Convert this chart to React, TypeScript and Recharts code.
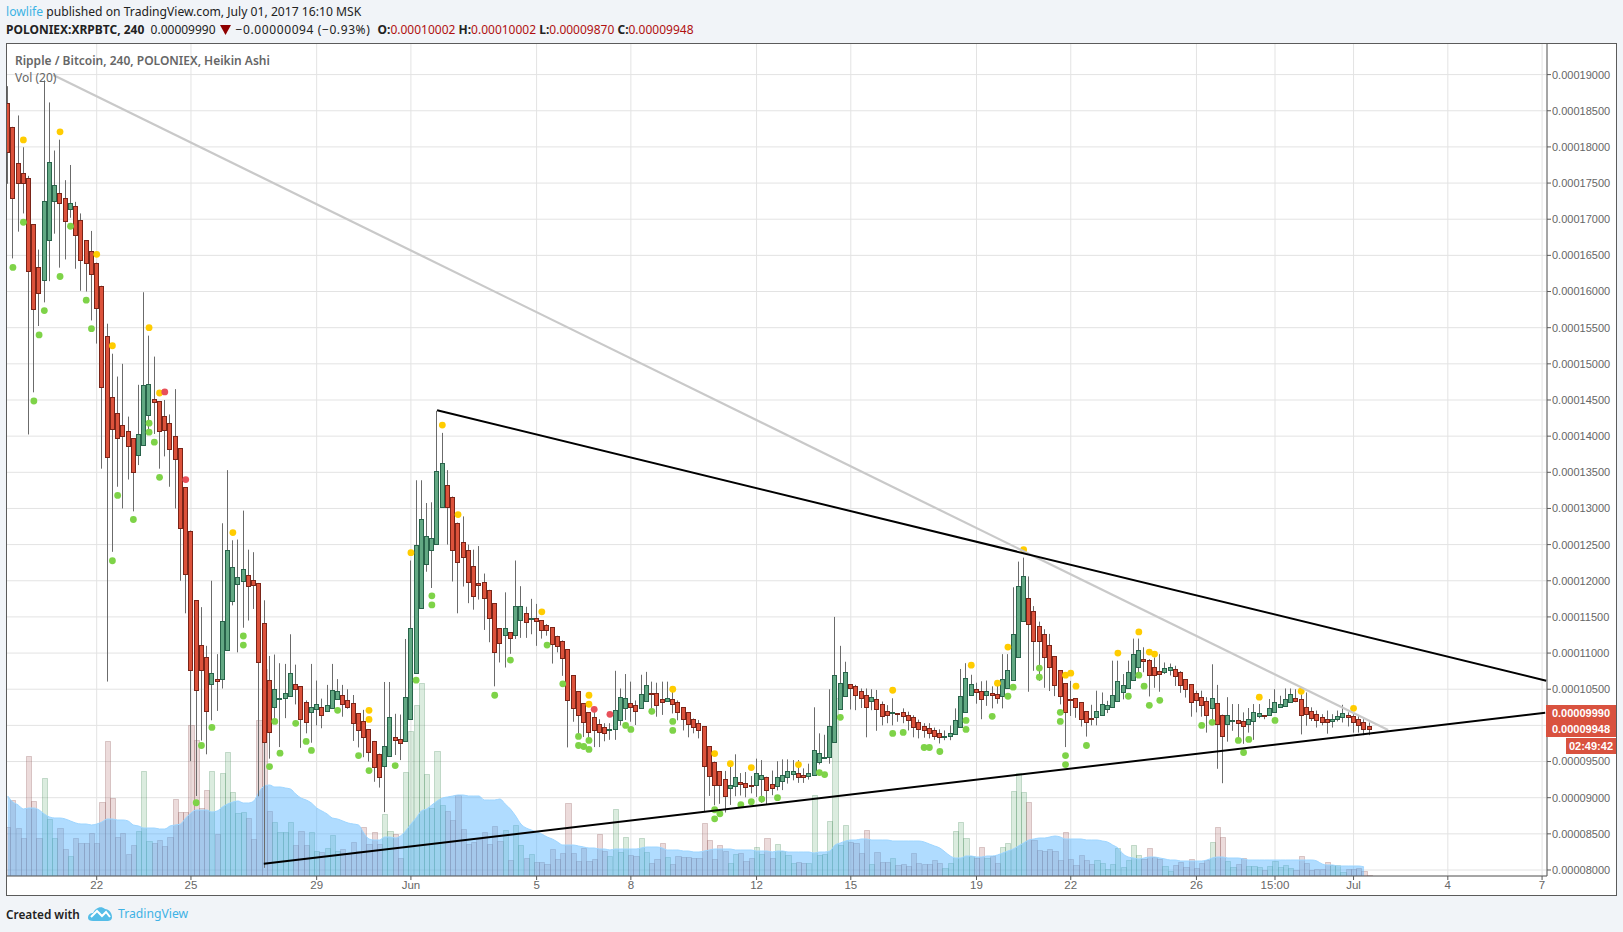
import React from 'react';
import {
  ComposedChart, Bar, Area, Scatter, XAxis, YAxis, CartesianGrid, ReferenceLine,
} from 'recharts';

// prices are in satoshi (1e-8 BTC), one entry per 4h Heikin Ashi candle
const opens = [
  18611,18278,17778,17640,17570,16930,16346,16166,16708,17250,17360,17290,17140,17180,16990,16710,16555,16400,16080,15390,
  14540,14320,14150,14070,13970,13735,13875,14290,14510,14480,14280,14180,14000,13833,13290,12695,11730,11110,10944,10570,
  10640,10640,11040,11720,11950,12000,12080,12010,11970,11415,10630,10250,10360,10375,10400,10570,10540,10320,10180,10220,
  10260,10200,10240,10365,10420,10350,10310,10170,10060,9950,9785,9610,9445,9580,9840,9810,9785,10090,10720,11625,
  12235,12430,12515,13015,13320,13165,12805,12530,12430,12210,11975,11985,11875,11690,11345,11245,11290,11245,11455,11555,
  11480,11485,11455,11385,11360,11240,11170,11055,10695,10472,10305,10180,10110,10015,9975,9930,9945,10070,10235,10305,
  10277,10235,10335,10445,10445,10360,10335,10360,10320,10250,10180,10095,10030,9990,9710,9500,9365,9265,9135,9165,
  9220,9200,9180,9180,9260,9290,9195,9165,9225,9280,9325,9340,9310,9295,9310,9495,9545,9560,9765,10225,
  10400,10570,10540,10470,10415,10335,10360,10290,10205,10170,10170,10180,10150,10110,10040,9985,9960,9930,9890,9855,
  9860,9875,9975,10180,10415,10500,10470,10415,10445,10430,10400,10515,10625,10945,11445,11765,11585,11375,11265,11110,
  10960,10765,10585,10370,10375,10320,10195,10105,10110,10150,10220,10250,10335,10465,10515,10625,10805,10915,10900,10805,
  10750,10735,10765,10780,10735,10640,10570,10445,10390,10335,10235,10305,10150,10015,10070,10080,10055,10015,10055,10125,
  10140,10140,10180,10250,10265,10320,10375,10360,10250,10195,10155,10110,10085,10055,10085,10110,10140,10125,10085,10040,
  9985,
];
const highs = [
  18840,18278,18435,17995,17600,16930,16580,18920,18615,17950,18100,17540,17750,17240,17080,16710,16838,16400,16080,15555,
  15140,14824,15000,14270,13970,14710,15990,15390,15100,14480,14500,14300,14650,13833,13290,12695,11730,11635,11100,12000,
  10985,12795,13530,12560,12570,12970,12430,12395,11970,11730,10960,10980,10860,10850,11260,10840,10540,10345,10850,10620,
  10370,10560,10850,10640,10560,10500,10420,10170,10215,9950,9785,9610,10600,10600,10160,10150,11195,12280,13390,13390,
  13075,13085,14350,14045,13530,13165,12805,12890,12500,12430,12480,12100,11875,11690,11345,11840,11290,12280,11925,11640,
  11750,11680,11455,11400,11360,11240,11175,11055,10695,10472,10305,10180,10220,10085,10030,10030,10755,10510,10710,10605,
  10345,10700,10740,10605,10590,10605,10605,10510,10345,10250,10180,10095,10075,9990,9710,9500,9365,9370,9480,9600,
  9340,9355,9300,9540,9520,9290,9375,9505,9530,9530,9520,9520,9405,9470,10250,9890,9870,10500,11500,11100,
  10880,10570,10560,10510,10510,10500,10490,10330,10280,10375,10170,10235,10190,10140,10080,10030,10030,9970,9945,9930,
  10000,10235,10780,10860,10700,10590,10610,10620,10540,10590,10985,10985,11910,12265,12320,12060,11650,11435,11330,11265,
  10960,10765,10585,10615,10375,10320,10195,10285,10480,10455,10340,10895,10895,10710,10895,11200,11200,11080,10915,10940,
  10985,10870,10855,10825,10750,10640,10570,10480,10480,10390,10845,10560,10150,10390,10295,10295,10180,10240,10295,10295,
  10140,10365,10500,10410,10510,10510,10500,10430,10455,10250,10205,10155,10205,10155,10205,10285,10180,10155,10130,10085,
  10040,
];
const lows = [
  17490,16458,16828,17080,14023,14606,15523,15850,16143,16800,16330,16444,17020,16315,16010,16000,15600,15280,13550,10606,
  12400,13300,13000,13400,12960,13600,13875,14030,14030,13550,13720,13300,13000,12000,11550,9505,9023,9790,9600,10070,
  10200,10510,11040,11660,11010,11350,11450,11610,9020,8030,9540,10030,9700,10100,10400,10290,9690,9890,9760,10000,
  9960,10200,10240,10365,10120,10230,9785,9695,9560,9500,9220,9140,8800,9580,9590,9520,9785,10090,10720,11625,
  12125,11900,12515,13015,12500,11990,11550,11920,11690,11600,11740,11320,11150,10540,10870,10800,10990,11195,11210,11210,
  11260,11100,11200,11240,10855,11010,10685,9695,10050,9880,9840,9780,9700,9700,9780,9800,9800,10000,10075,10050,
  10005,10235,10335,10155,10120,10145,10335,10165,10070,9930,9835,9890,9820,8810,9025,8895,8915,8795,8900,9020,
  9030,9005,9060,9010,8930,8900,9035,9100,9105,9195,9240,9205,9205,9250,9310,9460,9545,9470,9765,10225,
  10400,10220,10210,10240,9835,10210,9925,10000,10030,10000,10050,10030,9930,9835,9820,9830,9820,9800,9750,9795,
  9795,9875,9975,10180,10415,10300,10085,10270,10235,10300,10235,10515,10625,10945,11445,10465,10755,10615,10520,10475,
  10405,10290,9700,10130,10105,9985,9845,10000,10000,10150,10170,10250,10335,10360,10515,10625,10685,10735,10400,10520,
  10465,10710,10690,10545,10450,10385,10120,10180,10120,9900,10015,9400,9200,9775,9925,9780,9745,9900,9800,10100,
  10085,10140,10180,10250,10265,10320,10320,9875,9995,10060,9970,10000,9885,9970,10055,10040,9985,9900,9900,9865,
  9865,
];
const closes = [
  17930,17292,17500,17500,16290,15764,15981,17250,17790,17470,17220,16970,17220,16780,16430,16400,16236,15778,14680,13708,
  14097,13970,14000,13860,13510,14030,14708,14720,14470,14070,14080,13820,13680,12735,12090,10764,10486,10764,10195,10720,
  10620,11440,12430,12195,12055,12165,11930,11945,10870,9765,9915,10500,10375,10450,10720,10510,10090,10040,10260,10300,
  10150,10275,10490,10480,10295,10250,10030,9935,9840,9630,9420,9280,9720,10110,9800,9760,10390,11345,12500,12860,
  12625,12585,13515,13625,13025,12430,12260,12335,11985,11790,11945,11760,11490,11010,11135,11345,11210,11650,11650,11425,
  11485,11440,11320,11320,11125,11100,10935,10347,10235,10150,10050,9915,9930,9915,9900,9945,10210,10390,10375,10250,
  10195,10430,10555,10440,10280,10320,10375,10290,10180,10095,10015,9975,9930,9435,9295,9175,9175,9030,9180,9290,
  9195,9150,9165,9345,9320,9100,9140,9280,9320,9365,9365,9285,9285,9340,9660,9620,9560,9990,10695,10580,
  10740,10515,10415,10375,10250,10390,10220,10125,10150,10180,10160,10125,10080,9975,9945,9930,9890,9850,9835,9860,
  9890,10070,10400,10650,10570,10460,10360,10470,10415,10375,10640,10765,11265,11930,12070,11400,11165,11165,10945,10805,
  10555,10400,10180,10365,10250,10085,10045,10095,10195,10290,10280,10415,10610,10555,10735,10985,11040,10890,10695,10695,
  10710,10790,10805,10680,10555,10500,10320,10350,10280,10140,10375,10015,9860,10140,10080,10030,9985,10095,10180,10165,
  10125,10235,10320,10290,10360,10430,10335,10140,10155,10100,10070,10040,10040,10095,10125,10165,10110,10040,10000,9945,
  9945,
];
const volumes = [
  49,76,48,38,120,75,38,98,57,38,48,27,20,38,33,33,43,33,74,135,
  78,39,43,22,31,45,105,35,33,36,30,39,77,64,64,151,136,68,86,105,
  42,103,124,84,63,64,58,37,156,207,65,54,44,44,54,31,45,31,44,25,
  24,28,41,25,27,22,34,25,49,32,44,32,62,45,42,18,104,145,171,193,
  102,68,125,71,65,56,81,47,32,34,37,44,32,50,35,46,16,51,31,18,
  22,14,14,12,27,17,23,73,23,15,28,15,17,42,25,20,67,24,39,21,
  20,38,24,13,17,33,19,12,20,19,19,18,18,53,36,17,31,25,13,22,
  23,15,18,29,22,38,18,32,25,21,13,14,13,13,81,21,22,55,178,31,
  51,34,33,23,46,12,24,14,14,18,11,12,10,23,13,12,12,16,13,8,
  13,45,54,38,20,18,29,18,20,13,29,33,85,103,84,74,36,26,25,27,
  25,16,44,17,11,21,16,12,16,13,7,12,28,9,16,31,21,17,28,19,
  17,10,5,11,14,9,17,8,13,16,34,49,39,15,9,12,18,10,10,9,
  6,10,15,9,11,8,6,20,13,6,7,7,14,11,11,4,7,7,8,5,
  1,
];
const volumeMa = [
  80,74,71,67,68,68,66,62,59,58,58,57,55,53,52,52,51,52,54,57,
  57,56,56,55,51,50,48,48,48,47,47,50,51,52,58,63,66,66,66,64,
  65,69,72,74,75,73,73,75,84,90,91,89,89,88,87,82,78,76,73,68,
  65,62,58,57,55,53,52,51,43,37,36,36,39,39,38,40,45,52,58,65,
  67,71,75,78,79,80,81,81,80,80,80,76,76,76,77,72,67,60,52,48,
  46,44,42,39,37,34,31,31,31,30,29,28,28,27,27,26,27,27,27,27,
  27,28,29,29,29,28,26,26,26,25,25,24,24,25,26,27,27,27,27,26,
  26,26,26,25,25,25,24,25,25,24,24,24,24,24,23,24,24,25,31,33,
  35,36,36,37,37,36,36,36,36,35,35,35,35,35,35,34,32,30,28,24,
  20,18,18,20,20,19,19,20,20,21,23,25,27,30,33,36,37,38,38,39,
  40,39,37,37,37,37,36,36,36,35,34,31,28,22,19,18,17,18,19,19,
  18,17,16,16,15,15,15,15,15,16,18,19,19,18,18,18,17,16,16,16,
  16,16,16,16,16,16,16,16,16,16,15,12,11,11,10,10,10,10,10,9,
  null,
];

const yellowDots = [
  [3,18097],[10,18208],[17,16514],[20,15250],[27,15500],[29,14597],[43,12666],[69,10208],[69,10083],[77,12389],
  [83,14153],[86,12916],[102,11570],[111,10417],[111,10292],[127,10500],[135,9610],[138,9470],[142,9417],[151,9458],
  [169,10486],[184,10833],[189,10583],[191,11083],[194,12430],[202,10694],[203,10722],[204,10542],[212,11000],[216,11292],
  [218,11014],[219,10986],[239,10390],[247,10472],[257,10236],
];
const redDots = [[30,14611],[34,13400],[112,10222],[115,10153]];
const greenDots = [
  [1,16333],[3,16958],[5,14486],[6,15400],[7,15736],[10,16208],[12,16903],[15,15880],[16,15486],[20,12277],
  [21,13180],[24,12847],[27,14180],[27,14055],[28,13917],[29,13430],[36,8930],[37,9722],[39,9972],[45,11236],
  [45,11111],[50,9430],[51,10055],[52,9616],[55,10028],[57,9778],[58,9653],[63,10208],[67,9583],[69,9375],
  [74,9444],[78,10625],[81,11791],[81,11666],[93,10417],[96,10903],[103,11110],[106,10575],[109,9847],[109,9722],
  [110,9708],[111,9792],[111,9667],[118,10000],[119,9944],[123,10194],[127,10055],[127,9930],[135,8833],[135,8708],
  [136,8778],[140,8903],[142,8944],[144,8981],[147,9000],[155,9347],[156,9319],[159,10111],[169,9889],[171,9903],
  [175,9694],[176,9694],[178,9639],[183,10069],[183,9944],[188,10125],[191,10403],[192,10528],[197,10792],[197,10667],
  [201,10180],[201,10055],[202,9583],[202,9458],[206,9722],[214,10403],[216,10694],[217,10542],[218,10278],[220,10347],
  [228,10000],[230,10042],[235,9792],[236,9625],[237,9806],[242,10069],
];

const xTicks = [17, 35, 59, 77, 101, 119, 143, 161, 185, 203, 227, 242, 257, 275, 293];
const xLabels = ['22', '25', '29', 'Jun', '5', '8', '12', '15', '19', '22', '26', '15:00', 'Jul', '4', '7'];
const yTicks = [8000,8500,9000,9500,10000,10500,11000,11500,12000,12500,13000,13500,14000,14500,15000,15500,16000,16500,17000,17500,18000,18500,19000];

const X_DOMAIN = [-0.32, 293.94];
const Y_DOMAIN = [7917, 19437];

const data = opens.map((o, i) => ({
  i,
  open: o,
  high: highs[i],
  low: lows[i],
  close: closes[i],
  vol: volumes[i],
  volMa: volumeMa[i],
}));

const toPoints = (rows: number[][]) => rows.map(([i, p]) => ({ i, p }));

// snap to the pixel grid so 1px strokes stay crisp
const snap = (v: number) => Math.round(v) + 0.5;

const Candle = (props: any) => {
  const { x, y, width, height, payload } = props;
  const { open, high, low, close } = payload;
  const yOf = (v: number) => y + ((high - v) / (high - low)) * height;
  const up = close >= open;
  const top = snap(yOf(Math.max(open, close)));
  const bottom = snap(yOf(Math.min(open, close)));
  const left = snap(x + width / 2 - 2.5);
  return (
    <g>
      <line x1={left + 2} x2={left + 2} y1={y} y2={y + height} stroke="#6b6b6b" strokeWidth={1} />
      <rect
        x={left}
        y={top}
        width={4}
        height={Math.max(bottom - top, 1)}
        fill={up ? '#62a883' : '#dc523b'}
        stroke={up ? '#28634a' : '#7a2418'}
        strokeWidth={1}
      />
    </g>
  );
};

const VolumeBar = (props: any) => {
  const { x, y, width, height, payload } = props;
  const up = payload.close >= payload.open;
  const left = snap(x);
  return (
    <rect
      x={left}
      y={snap(y)}
      width={snap(x + width) - left}
      height={Math.max(height - 0.5, 0)}
      fill={up ? 'rgba(90,170,110,0.22)' : 'rgba(170,90,90,0.22)'}
      stroke={up ? 'rgba(60,130,80,0.25)' : 'rgba(130,70,70,0.25)'}
      strokeWidth={1}
    />
  );
};

const dot = (color: string) => (props: any) => (
  <circle cx={props.cx} cy={props.cy} r={3.4} fill={color} />
);

const headFont = '"Noto Sans", sans-serif';
const valueColor = '#b01010';

const App = () => (
  <div style={{ position: 'absolute', left: 0, top: 0, width: 1623, height: 932, background: '#f1f4f8', overflow: 'hidden', fontFamily: headFont }}>
    <div style={{ position: 'absolute', left: 6, top: 3, fontSize: 12.15, lineHeight: '17px', color: '#222', whiteSpace: 'nowrap' }}>
      <span style={{ color: '#3bb3e4' }}>lowlife</span> published on TradingView.com, July 01, 2017 16:10 MSK
    </div>
    <div style={{ position: 'absolute', left: 6, top: 21, fontSize: 12, lineHeight: '17px', color: '#222', whiteSpace: 'nowrap' }}>
      <b>POLONIEX:XRPBTC, 240</b>&nbsp; 0.00009990
      <svg width={11} height={10} viewBox="0 0 11 10" style={{ margin: '0 5px 0 4px', verticalAlign: -1 }}>
        <polygon points="0,0 11,0 5.5,10" fill="#8f0000" />
      </svg>
      <span style={{ letterSpacing: 0.6 }}>−0.00000094 (−0.93%)</span><span style={{ display: 'inline-block', width: 4 }} /> <b>O:</b>
      <span style={{ color: valueColor }}>0.00010002</span> <b>H:</b>
      <span style={{ color: valueColor }}>0.00010002</span> <b>L:</b>
      <span style={{ color: valueColor }}>0.00009870</span> <b>C:</b>
      <span style={{ color: valueColor }}>0.00009948</span>
    </div>

    <div style={{ position: 'absolute', left: 6, top: 43, width: 1611, height: 853, background: '#fff' }}>
      <ComposedChart width={1611} height={853} data={data} margin={{ top: 0, right: 0, bottom: 0, left: 0 }}>
        <CartesianGrid xAxisId="x" yAxisId="price" stroke="#e3e3e3" />
        <XAxis xAxisId="v" dataKey="i" type="number" domain={X_DOMAIN} hide height={0} allowDataOverflow />
        <XAxis
          xAxisId="x"
          dataKey="i"
          type="number"
          domain={X_DOMAIN}
          ticks={xTicks}
          interval={0}
          height={20}
          allowDataOverflow
          tickFormatter={(v: number) => xLabels[xTicks.indexOf(v)]}
          tick={{ fontSize: 11.5, fill: '#666', fontFamily: '"Liberation Sans", sans-serif' }}
          tickSize={4}
          tickMargin={1}
          stroke="#5b5b5b"
        />
        <YAxis
          yAxisId="price"
          orientation="right"
          type="number"
          domain={Y_DOMAIN}
          ticks={yTicks}
          interval={0}
          width={70}
          allowDataOverflow
          tickFormatter={(v: number) => (v === 10000 ? '' : (v / 1e8).toFixed(8))}
          tick={{ fontSize: 11, fill: '#666', fontFamily: '"Liberation Sans", sans-serif' }}
          tickSize={4}
          tickMargin={1}
          stroke="#5b5b5b"
        />
        <YAxis yAxisId="vol" type="number" domain={[0, 833]} hide width={0} allowDataOverflow />

        <Bar xAxisId="v" yAxisId="vol" dataKey="vol" barSize={5.2} shape={VolumeBar} isAnimationActive={false} zIndex={10} />
        <Area
          xAxisId="v"
          yAxisId="vol"
          dataKey="volMa"
          type="monotone"
          stroke="#9ed6ff"
          strokeWidth={1}
          fill="#50b1ff"
          fillOpacity={0.45}
          dot={false}
          activeDot={false}
          isAnimationActive={false}
          zIndex={20}
        />
        <Bar
          xAxisId="x"
          yAxisId="price"
          dataKey={(d: any) => [d.low, d.high]}
          barSize={5}
          shape={Candle}
          isAnimationActive={false}
          zIndex={30}
        />
        <Scatter xAxisId="x" yAxisId="price" data={toPoints(yellowDots)} dataKey="p" shape={dot('#ffcc00')} isAnimationActive={false} zIndex={40} />
        <Scatter xAxisId="x" yAxisId="price" data={toPoints(greenDots)} dataKey="p" shape={dot('#7ed348')} isAnimationActive={false} zIndex={40} />
        <Scatter xAxisId="x" yAxisId="price" data={toPoints(redDots)} dataKey="p" shape={dot('#e8505a')} isAnimationActive={false} zIndex={40} />
        <ReferenceLine
          xAxisId="x"
          yAxisId="price"
          segment={[{ x: 8.7, y: 18995 }, { x: 263.6, y: 9936 }]}
          stroke="#c9c9c9"
          strokeWidth={2.2}
          ifOverflow="visible"
          zIndex={45}
        />
        <ReferenceLine
          xAxisId="x"
          yAxisId="price"
          segment={[{ x: 82, y: 14358 }, { x: 293.8, y: 10618 }]}
          stroke="#000"
          strokeWidth={2}
          ifOverflow="visible"
          zIndex={50}
        />
        <ReferenceLine
          xAxisId="x"
          yAxisId="price"
          segment={[{ x: 48.9, y: 8087 }, { x: 293.6, y: 10175 }]}
          stroke="#000"
          strokeWidth={2}
          ifOverflow="visible"
          zIndex={50}
        />
      </ComposedChart>
      <div style={{ position: 'absolute', left: 9, top: 9, fontSize: 12, lineHeight: '17px', color: '#666', whiteSpace: 'nowrap', fontWeight: 600 }}>
        Ripple / Bitcoin, 240, POLONIEX, Heikin Ashi
      </div>
      <div style={{ position: 'absolute', left: 9, top: 26, fontSize: 12, lineHeight: '17px', color: '#666', whiteSpace: 'nowrap' }}>
        Vol (20)
      </div>
      <div style={{ position: 'absolute', left: 0, top: 0, width: 1611, height: 853, boxSizing: 'border-box', border: '1px solid #5b5b5b', pointerEvents: 'none' }} />
    </div>

    <div style={{ position: 'absolute', left: 1546, top: 705, width: 70, height: 32, background: '#d9523f', color: '#fff', fontFamily: '"Liberation Sans", sans-serif', fontSize: 11, fontWeight: 700, textAlign: 'center', lineHeight: '16px' }}>
      <div>0.00009990</div>
      <div>0.00009948</div>
    </div>
    <div style={{ position: 'absolute', left: 1566, top: 738, width: 50, height: 16, background: '#d9523f', color: '#fff', fontFamily: '"Liberation Sans", sans-serif', fontSize: 11, fontWeight: 700, textAlign: 'center', lineHeight: '16px' }}>
      02:49:42
    </div>

    <div style={{ position: 'absolute', left: 6, top: 905, fontSize: 11.8, lineHeight: '18px', color: '#222', fontWeight: 600, whiteSpace: 'nowrap' }}>
      Created with
    </div>
    <svg style={{ position: 'absolute', left: 87, top: 904 }} width={26} height={18} viewBox="0 0 26 18">
      <path d="M1 14 C1 10 4 9 6 9 C8 4 14 1 18 5 C22 5 25 9 25 13 C25 16 23 17 20 17 L6 17 C3 17 1 16 1 14 Z" fill="#55bde8" />
      <path d="M4 13 L10 7 L15 12 L19 8 L23 13" fill="none" stroke="#fff" strokeWidth={2} />
    </svg>
    <div style={{ position: 'absolute', left: 118, top: 905, fontSize: 12.2, lineHeight: '18px', color: '#3fb2e5', whiteSpace: 'nowrap' }}>
      TradingView
    </div>
  </div>
);

export default App;
